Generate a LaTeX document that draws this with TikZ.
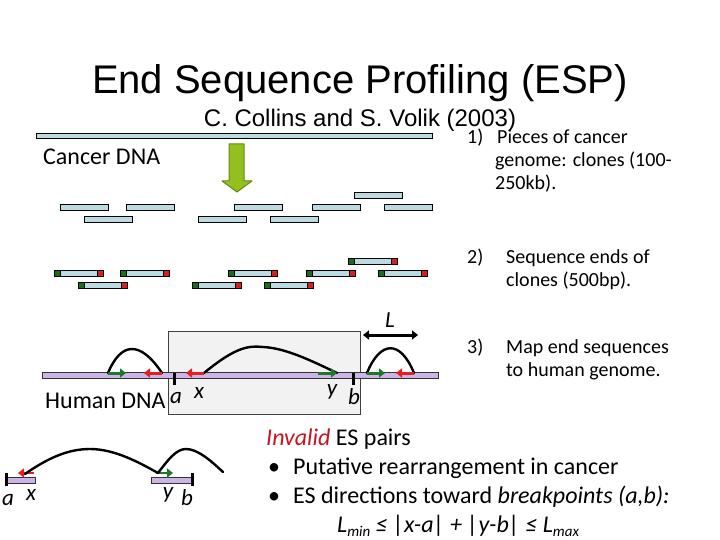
\documentclass[tikz,border=0pt]{standalone}
\usepackage{fontspec}
\setmainfont{Carlito}
\newfontfamily\arialfont{Liberation Sans}
\usetikzlibrary{arrows.meta}
\definecolor{clonefill}{RGB}{188,218,226}
\definecolor{endgreenc}{RGB}{24,110,30}
\definecolor{endredc}{RGB}{222,28,32}
\definecolor{esgreenc}{RGB}{30,120,40}
\definecolor{esredc}{RGB}{230,30,30}
\definecolor{dnapurple}{RGB}{204,180,232}
\definecolor{boxgray}{RGB}{242,242,242}
\definecolor{bigarrowfill}{RGB}{146,192,30}
\definecolor{bigarrowline}{RGB}{100,140,20}
\definecolor{invalidred}{RGB}{200,20,30}
\tikzset{
  clonebox/.style={draw=black,line width=0.8pt,fill=clonefill},
  endgreen/.style={draw=black,line width=0.8pt,fill=endgreenc},
  endred/.style={draw=black,line width=0.8pt,fill=endredc},
  dnabar/.style={draw=black!80,line width=0.7pt,fill=dnapurple},
  hilite/.style={draw=black!75,line width=0.7pt,fill=boxgray},
  tickmark/.style={line width=3pt,black},
  esgreen/.style={line width=3pt,esgreenc,-{Triangle[length=6pt,width=9pt]}},
  esred/.style={line width=3pt,esredc,-{Triangle[length=6pt,width=9pt]}},
  arcline/.style={line width=2.4pt,black,line cap=round},
  lbl/.style={inner sep=0,anchor=base,font=\fontsize{23}{25}\selectfont\itshape},
  body/.style={inner sep=0,anchor=base west,font=\fontsize{24}{29}\selectfont},
  item/.style={inner sep=0,anchor=base west,font=\fontsize{20}{23}\selectfont},
}
\newcommand\clonebar[2]{\draw[clonebox] (#1,#2) rectangle ++(48,6);}
\newcommand\cloneends[2]{\draw[clonebox] (#1,#2) rectangle ++(49,6);
  \draw[endgreen] (#1,#2) rectangle ++(6,6);
  \draw[endred] (#1+43,#2) rectangle ++(6,6);}
\newcommand\subtxt[1]{\raisebox{-0.35ex}{\fontsize{15}{15}\selectfont #1}}
\begin{document}
\begin{tikzpicture}[x=1pt,y=-1pt]
\useasboundingbox (0,0) rectangle (720,540);
% titles
\node[inner sep=0,anchor=base,font=\arialfont\fontsize{40}{48}\selectfont] (title) at (360,94) {End Sequence Profiling (ESP)};
\node[inner sep=0,anchor=base,font=\arialfont\fontsize{24}{28}\selectfont] (subtitle) at (360,127) {C. Collins and S. Volik (2003)};
% cancer DNA
\draw[clonebox] (36,133) rectangle (432,138);
\node[body] (cancerlbl) at (43,165) {Cancer DNA};
\draw[fill=bigarrowfill,draw=bigarrowline,line width=1pt,line join=round]
  (229,144) -- (244,144) -- (244,181) -- (252,181) -- (237,192) -- (222,181) -- (229,181) -- cycle;
% clones row 1
\clonebar{354}{192}
\foreach \cx in {60,126,234,312,384} {\clonebar{\cx}{204}}
\foreach \cx in {84,198,270} {\clonebar{\cx}{216}}
% clones row 2 with ends
\cloneends{348}{258}
\foreach \cx in {54,120,228,306,378} {\cloneends{\cx}{270}}
\foreach \cx in {78,192,264} {\cloneends{\cx}{282}}
% human DNA
\draw[hilite] (168,331) rectangle (360,414);
\draw[dnabar] (42,372.5) rectangle (438,378.5);
\node[body] (humanlbl) at (45,408) {Human DNA};
\coordinate (ta1) at (174,373); \coordinate (ta2) at (174,385);
\coordinate (tb1) at (353,373); \coordinate (tb2) at (353,385);
\draw[tickmark] (ta1) -- (ta2);
\draw[tickmark] (tb1) -- (tb2);
% ES arrows
\coordinate (g1s) at (108,373); \coordinate (g1e) at (126,373);
\coordinate (r1s) at (162,373); \coordinate (r1e) at (144,373);
\coordinate (r2s) at (204,373); \coordinate (r2e) at (186,373);
\coordinate (g2s) at (318,373); \coordinate (g2e) at (337,373);
\coordinate (g3s) at (367,373); \coordinate (g3e) at (385,373);
\coordinate (r3s) at (414,373); \coordinate (r3e) at (396,373);
\draw[arcline] (g1s) .. controls (121,342) and (140,340) .. (r1s);
\draw[arcline] (r2s) .. controls (238,345) and (250,346) .. (263,347) .. controls (285,348) and (310,360) .. (g2e);
\draw[arcline] (g3s) .. controls (380,341) and (400,339) .. (r3s);
\draw[esgreen] (g1s) -- (g1e);
\draw[esred] (r1s) -- (r1e);
\draw[esred] (r2s) -- (r2e);
\draw[esgreen] (g2s) -- (g2e);
\draw[esgreen] (g3s) -- (g3e);
\draw[esred] (r3s) -- (r3e);
\coordinate (La) at (363,335); \coordinate (Lb) at (418,335);
\draw[line width=3pt,{Triangle[length=6pt,width=9pt]}-{Triangle[length=6pt,width=9pt]}] (La) -- (Lb);
\node[lbl] (Llbl) at (390,327) {L};
\node[lbl] (albl) at (176,403) {a};
\node[lbl] (xlbl) at (199,398) {x};
\node[lbl] (ylbl) at (332,395) {y};
\node[lbl] (blbl) at (354,404) {b};
% bottom-left invalid pair
\draw[dnabar] (7,477) rectangle (35,483);
\draw[dnabar] (151,477) rectangle (192,483);
\coordinate (ba1) at (6,473); \coordinate (ba2) at (6,486);
\coordinate (bb1) at (192,473); \coordinate (bb2) at (192,486);
\draw[tickmark] (ba1) -- (ba2);
\draw[tickmark] (bb1) -- (bb2);
\coordinate (r4s) at (34,473); \coordinate (r4e) at (18,473);
\coordinate (g4s) at (156,473); \coordinate (g4e) at (173,473);
\coordinate (arcend) at (223,472);
\draw[esred,line width=2.5pt] (r4s) -- (r4e);
\draw[esgreen,line width=2.5pt] (g4s) -- (g4e);
\draw[arcline] (25,474) .. controls (48,458) and (68,449) .. (90,449) .. controls (115,449) and (140,463) .. (158,473);
\draw[arcline] (158,473) .. controls (168,460) and (176,449) .. (186,449) .. controls (198,449) and (211,461) .. (arcend);
\node[lbl] (a2lbl) at (8,505) {a};
\node[lbl] (x2lbl) at (31,500) {x};
\node[lbl] (y2lbl) at (168,498) {y};
\node[lbl] (b2lbl) at (187,505) {b};
% right items
\node[item] (n1) at (467,143.5) {1)};
\node[item] (i1a) at (497,143.5) {Pieces of cancer};
\node[item] (i1b) at (495,166.5) {genome: clones (100-};
\node[item] (i1c) at (495,189.5) {250kb).};
\node[item] (n2) at (467,263) {2)};
\node[item] (i2a) at (506,263) {Sequence ends of};
\node[item] (i2b) at (506,286) {clones (500bp).};
\node[item] (n3) at (467,353) {3)};
\node[item] (i3a) at (506,353) {Map end sequences};
\node[item] (i3b) at (506,376) {to human genome.};
% bottom text
\node[body] (inv) at (266,445) {\textcolor{invalidred}{\itshape Invalid} ES pairs};
\node[body] (bul1) at (268,474) {•};
\node[body] (t1) at (293,474) {Putative rearrangement in cancer};
\node[body] (bul2) at (268,503) {•};
\node[body] (t2) at (293,503) {ES directions toward \textit{breakpoints (a,b):}};
\node[body] (formula) at (337,532) {\itshape L\subtxt{min} ≤ |x-a| + |y-b| ≤ L\subtxt{max}};
\end{tikzpicture}
\end{document}
